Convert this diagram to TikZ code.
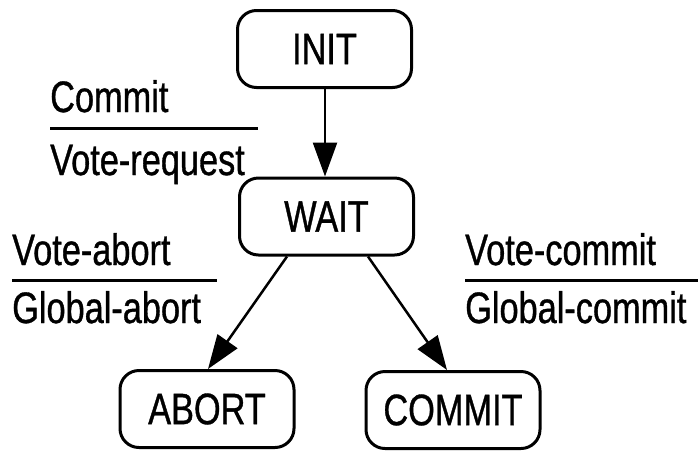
\documentclass[tikz,border=0pt]{standalone}
\usepackage{fontspec}
\setmainfont[FakeStretch=0.78,FakeBold=0.8]{Liberation Sans}
\usetikzlibrary{arrows.meta,calc}

\tikzset{
  state/.style={draw, line width=3pt, rounded corners=19pt,
    minimum width=174pt, minimum height=77pt, inner sep=0pt,
    font=\fontsize{44}{50}\selectfont},
  lbl/.style={anchor=base west, inner sep=0pt, font=\fontsize{44}{50}\selectfont},
  rule/.style={line width=3pt},
  flow/.style={line width=2.5pt, -{Triangle[length=34pt,width=24pt]}}
}

\begin{document}
\begin{tikzpicture}[x=1pt,y=-1pt]
  \useasboundingbox (0,0) rectangle (698,451);

  % states of the coordinator
  \node[state] (init)   at (324.5,49)  {INIT};
  \node[state] (wait)   at (326.5,216.5) {WAIT};
  \node[state] (abort)  at (207,409)   {ABORT};
  \node[state] (commit) at (453,410)   {COMMIT};

  % transitions
  \draw[flow] ($(init.south)+(0.5,0)$) -- ($(wait.north)+(-1.5,0)$);
  \draw[flow] ($(wait.south)+(-39.5,0)$) -- ($(abort.north)+(1,0)$);
  \draw[flow] ($(wait.south)+(41.5,0)$) -- ($(commit.north)+(-6,0)$);

  % event / action labels
  \node[lbl] (ev1) at (50,112)  {Commit};
  \node[lbl] (ac1) at (50,175)  {Vote-request};
  \coordinate (r1a) at (50,128);  \coordinate (r1b) at (258,128);
  \draw[rule] (r1a) -- (r1b);

  \node[lbl] (ev2) at (12,265)  {Vote-abort};
  \node[lbl] (ac2) at (12,323)  {Global-abort};
  \coordinate (r2a) at (12,280);  \coordinate (r2b) at (217,280);
  \draw[rule] (r2a) -- (r2b);

  \node[lbl] (ev3) at (465,265) {Vote-commit};
  \node[lbl] (ac3) at (465,323) {Global-commit};
  \coordinate (r3a) at (465,280); \coordinate (r3b) at (698,280);
  \draw[rule] (r3a) -- (r3b);
\end{tikzpicture}
\end{document}
